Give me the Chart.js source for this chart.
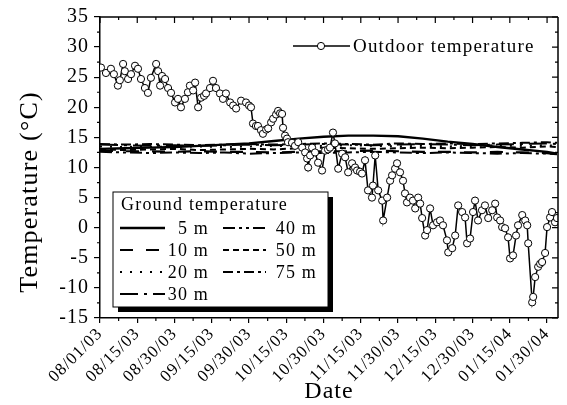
<!DOCTYPE html>
<html>
<head>
<meta charset="utf-8">
<script src="https://cdn.jsdelivr.net/npm/chart.js@4.4.1/dist/chart.umd.min.js"></script>
<style>
  html, body { margin: 0; padding: 0; background: #fff; }
</style>
</head>
<body>
<canvas id="tempChart" width="567" height="405"></canvas>
<script>
// x axis: days since 08/01/03
const dateLabels = ['08/01/03', '08/15/03', '08/30/03', '09/15/03', '09/30/03', '10/15/03', '10/30/03',
    '11/15/03', '11/30/03', '12/15/03', '12/30/03', '01/15/04', '01/30/04'];
const tickDays = [0, 15, 30, 45, 60, 75, 90, 105, 120, 135, 150, 165, 180];
const yTicks = [-15, -10, -5, 0, 5, 10, 15, 20, 25, 30, 35];

// Outdoor temperature
const outdoorDays = [0.4, 2.4, 4.4, 5.6, 7.2, 8, 9.3, 10, 11.3, 12.5,
    14.1, 15.3, 16.5, 18.1, 19.3, 20.5, 22.6, 23.4, 24.2, 25,
    26.2, 27.4, 28.6, 30.2, 31.4, 32.6, 34.2, 35.4, 36.2, 37.5,
    38.3, 39.5, 40.7, 41.9, 42.7, 44.3, 45.5, 46.7, 48.3, 49.5,
    50.7, 52.4, 53.6, 54.8, 56.8, 58.8, 60, 60.8, 61.6, 62.8,
    63.6, 64.8, 65.6, 66.9, 67.7, 68.9, 69.7, 70.9, 71.7, 72.5,
    73.3, 73.7, 74.5, 75.3, 75.7, 77.3, 78.5, 79.8, 81.4, 82.6,
    83.4, 83.8, 84.6, 85.4, 86.6, 87.8, 89.4, 90.6, 91.8, 92.6,
    93.8, 94.6, 95.9, 97.5, 98.7, 99.9, 101.5, 102.7, 103.5, 104.7,
    105.5, 106.7, 107.9, 109.5, 109.9, 110.8, 112, 113.6, 114, 115.6,
    116.8, 117.6, 118.8, 119.6, 120.8, 122, 122.8, 123.6, 124.8, 126,
    126.9, 128.1, 128.9, 129.7, 130.9, 131.7, 132.9, 134.1, 135.7, 136.9,
    138.1, 139.7, 140.2, 141.8, 143, 144.2, 145.8, 147, 147.8, 149,
    150.2, 151, 152.2, 153.8, 155, 156.3, 157.9, 159.1, 159.9, 161.1,
    161.9, 163.1, 164.3, 165.1, 166.3, 167.5, 168.3, 170, 171.2, 172,
    172.4, 174, 174.4, 175.2, 176.4, 177.2, 178, 179.2, 180, 181.2,
    182, 183.2, 184];
const outdoorTemp = [26.6, 25.7, 26.4, 25.5, 23.6, 24.5, 27.2, 26, 24.7, 25.5,
    26.9, 26.4, 24.7, 23.2, 22.4, 24.9, 27.2, 26, 23.6, 25.2,
    24.7, 23.2, 22.4, 20.8, 21.4, 20, 21.4, 22.5, 23.6, 22.8,
    24.1, 20, 21.6, 21.9, 22.3, 23.2, 24.4, 23.2, 22.3, 21.4,
    22.3, 20.8, 20.3, 19.8, 21.1, 20.8, 20.3, 20, 17.3, 16.9,
    16.9, 16.2, 15.6, 16.3, 16.5, 17.5, 18.1, 18.8, 19.4, 19,
    18.9, 16.6, 15.3, 14.8, 14.2, 14.1, 13.6, 14.2, 13.3, 12.5,
    11.5, 10, 12, 13.3, 12.5, 10.8, 9.5, 12.8, 13, 13.3,
    15.8, 14, 9.8, 12.3, 11.7, 9.2, 10.7, 10, 9.5, 9.3,
    9, 11.2, 6.2, 5, 7, 12, 6.2, 4.5, 1.2, 5,
    7.8, 8.7, 9.8, 10.7, 9.2, 7.8, 5.7, 4.2, 5, 4.5,
    3.2, 5, 4, 1.6, -1.3, -0.4, 3.2, 0.4, 0.9, 1.2,
    0.4, -2.1, -4.1, -3.4, -1.3, 3.7, 2.6, 1.7, -2.6, -1.8,
    2.6, 4.5, 1.2, 2.9, 3.7, 1.6, 2.9, 4, 1.7, 1.2,
    0.1, -0.1, -1.6, -5.1, -4.6, -1.3, 0.4, 2.1, 1.2, 0.4,
    -2.6, -12.4, -11.5, -8.2, -6.5, -6, -5.7, -4.2, 0.1, 1.7,
    2.6, 0.9, 1.6];

// Ground temperature at depth
const groundDays = [0, 10, 20, 30, 40, 50, 60, 70, 80, 90, 100, 110, 120, 130, 140, 150, 160, 170, 180, 184];
const ground5m  = [13.1, 13.2, 13.3, 13.4, 13.6, 13.8, 14.0, 14.4, 14.8, 15.1, 15.3, 15.3, 15.2, 14.8, 14.3, 13.9, 13.4, 13.0, 12.6, 12.3];
const ground10m = [12.8, 12.7, 12.7, 12.6, 12.7, 12.6, 12.6, 12.5, 12.6, 12.7, 12.7, 12.8, 12.7, 12.6, 12.6, 12.5, 12.6, 12.5, 12.4, 12.2];
const ground20m = [13.5, 13.4, 13.5, 13.4, 13.5, 13.4, 13.5, 13.6, 13.5, 13.6, 13.7, 13.6, 13.5, 13.6, 13.5, 13.6, 13.7, 13.6, 13.7, 13.6];
const ground30m = [13.8, 13.7, 13.6, 13.7, 13.6, 13.7, 13.8, 13.7, 13.8, 13.9, 13.8, 13.7, 13.8, 13.9, 13.8, 13.7, 13.8, 13.9, 14.0, 13.9];
const ground40m = [12.6, 12.5, 12.4, 12.5, 12.4, 12.5, 12.3, 12.4, 12.5, 12.4, 12.5, 12.6, 12.5, 12.4, 12.5, 12.4, 12.3, 12.4, 12.3, 12.2];
const ground50m = [13.0, 12.9, 13.0, 13.1, 12.9, 13.0, 13.1, 13.0, 13.2, 13.3, 13.2, 13.1, 13.2, 13.3, 13.2, 13.3, 13.4, 13.3, 13.5, 13.4];
const ground75m = [13.9, 13.8, 13.9, 13.8, 13.7, 13.8, 13.9, 13.8, 13.9, 14.0, 13.9, 13.8, 14.0, 13.9, 14.0, 13.9, 14.0, 14.1, 14.2, 14.1];

const serif = "'Liberation Serif', 'DejaVu Serif', serif";

function groundSet(label, values, dash, width) {
    return {
        label: label,
        data: groundDays.map((d, i) => ({ x: d, y: values[i] })),
        borderColor: '#000',
        borderWidth: width,
        borderDash: dash,
        pointRadius: 0,
        fill: false,
        tension: 0
    };
}

const datasets = [
    {
        label: 'Outdoor temperature',
        data: outdoorDays.map((d, i) => ({ x: d, y: outdoorTemp[i] })),
        borderColor: '#000',
        borderWidth: 1.5,
        pointRadius: 3.6,
        pointBorderWidth: 1,
        pointBorderColor: '#000',
        pointBackgroundColor: '#fff',
        fill: false,
        tension: 0
    },
    groundSet('5 m', ground5m, [], 2.4),
    groundSet('10 m', ground10m, [13, 13], 2.2),
    groundSet('20 m', ground20m, [2, 8], 2),
    groundSet('30 m', ground30m, [18, 6, 3, 6], 2),
    groundSet('40 m', ground40m, [12, 4, 3, 4, 3, 4], 2),
    groundSet('50 m', ground50m, [6, 4], 2),
    groundSet('75 m', ground75m, [10, 4, 3, 4], 2)
];

// frame, mirror ticks, minor ticks, titles and both legends
const decorPlugin = {
    id: 'decor',
    beforeDraw(chart) {
        // wider glyph spacing for the tick labels, like the original figure
        chart.ctx.letterSpacing = '1px';
    },
    afterDraw(chart) {
        const ctx = chart.ctx;
        const area = chart.chartArea;
        const xs = chart.scales.x, ys = chart.scales.y;
        ctx.save();
        ctx.strokeStyle = '#000';
        ctx.lineWidth = 1.5;
        ctx.beginPath();
        ctx.moveTo(area.left, area.top); ctx.lineTo(area.right, area.top);
        ctx.moveTo(area.right, area.top); ctx.lineTo(area.right, area.bottom);
        ctx.stroke();

        ctx.lineWidth = 1.2;
        ctx.beginPath();
        for (let v = 0; v <= 180; v += 7.5) {
            const px = xs.getPixelForValue(v);
            const major = v % 15 === 0;
            ctx.moveTo(px, area.top); ctx.lineTo(px, area.top + (major ? 6 : 3));
            if (!major) { ctx.moveTo(px, area.bottom); ctx.lineTo(px, area.bottom + 3); }
        }
        for (let v = -15; v <= 35; v += 2.5) {
            const py = ys.getPixelForValue(v);
            const major = v % 5 === 0;
            ctx.moveTo(area.right, py); ctx.lineTo(area.right - (major ? 6 : 3), py);
            if (!major) { ctx.moveTo(area.left, py); ctx.lineTo(area.left - 3, py); }
        }
        ctx.stroke();

        // axis titles
        ctx.fillStyle = '#000';
        ctx.textAlign = 'center';
        ctx.textBaseline = 'alphabetic';
        ctx.font = '24px ' + serif;
        ctx.letterSpacing = '1px';
        ctx.fillText('Date', (area.left + area.right) / 2, 398);
        ctx.save();
        ctx.translate(37, 192);
        ctx.rotate(-Math.PI / 2);
        ctx.font = '26px ' + serif;
        ctx.letterSpacing = '1.2px';
        ctx.fillText('Temperature (°C)', 0, 0);
        ctx.restore();

        // outdoor legend
        const out = chart.data.datasets[0];
        ctx.lineWidth = out.borderWidth;
        ctx.beginPath();
        ctx.moveTo(293, 46); ctx.lineTo(350, 46);
        ctx.stroke();
        ctx.beginPath();
        ctx.arc(321, 46, out.pointRadius, 0, Math.PI * 2);
        ctx.fillStyle = '#fff';
        ctx.fill();
        ctx.lineWidth = 1;
        ctx.stroke();
        ctx.fillStyle = '#000';
        ctx.font = '19px ' + serif;
        ctx.letterSpacing = '1.2px';
        ctx.textAlign = 'left';
        ctx.textBaseline = 'middle';
        ctx.fillText(out.label, 353, 47);

        // ground legend box with shadow
        const bx = 113, by = 192, bw = 215, bh = 115;
        ctx.fillStyle = '#000';
        ctx.fillRect(bx + 5, by + 5, bw, bh);
        ctx.fillStyle = '#fff';
        ctx.fillRect(bx, by, bw, bh);
        ctx.lineWidth = 1;
        ctx.strokeRect(bx, by, bw, bh);
        ctx.fillStyle = '#000';
        ctx.font = '18px ' + serif;
        ctx.letterSpacing = '1.2px';
        ctx.fillText('Ground temperature', bx + 8, by + 13);

        const cols = [
            { sx1: 120, sx2: 165, tx: 209, sets: [1, 2, 3, 4] },
            { sx1: 223, sx2: 266, tx: 317, sets: [5, 6, 7] }
        ];
        cols.forEach(col => {
            col.sets.forEach((di, r) => {
                const ds = chart.data.datasets[di];
                const y = by + 36 + r * 22;
                ctx.save();
                ctx.lineWidth = ds.borderWidth;
                ctx.setLineDash(ds.borderDash);
                ctx.beginPath();
                ctx.moveTo(col.sx1, y); ctx.lineTo(col.sx2, y);
                ctx.stroke();
                ctx.restore();
                ctx.textAlign = 'right';
                ctx.fillText(ds.label, col.tx, y + 1);
            });
        });
        ctx.restore();
    }
};

new Chart(document.getElementById('tempChart'), {
    type: 'line',
    data: { datasets: datasets },
    plugins: [decorPlugin],
    options: {
        responsive: false,
        animation: false,
        events: [],
        layout: { padding: { left: 0, right: 9, top: 16, bottom: 0 } },
        plugins: { legend: { display: false }, tooltip: { enabled: false } },
        scales: {
            x: {
                type: 'linear',
                min: 0,
                max: 184.4,
                afterBuildTicks: s => { s.ticks = tickDays.map(v => ({ value: v })); },
                afterFit: s => { s.height = 87; },
                ticks: {
                    autoSkip: false,
                    minRotation: 45,
                    maxRotation: 45,
                    padding: 1,
                    color: '#000',
                    font: { family: serif, size: 17 },
                    callback: (v, i) => dateLabels[i]
                },
                grid: { drawOnChartArea: false, color: '#000', lineWidth: 1.2, tickLength: 5 },
                border: { color: '#000', width: 1.5 }
            },
            y: {
                min: -15,
                max: 35,
                afterBuildTicks: s => { s.ticks = yTicks.map(v => ({ value: v })); },
                afterFit: s => { s.width = 100; },
                ticks: {
                    padding: 5,
                    color: '#000',
                    font: { family: serif, size: 20 }
                },
                grid: { drawOnChartArea: false, color: '#000', lineWidth: 1.2, tickLength: 6 },
                border: { color: '#000', width: 1.5 }
            }
        }
    }
});
</script>
</body>
</html>
